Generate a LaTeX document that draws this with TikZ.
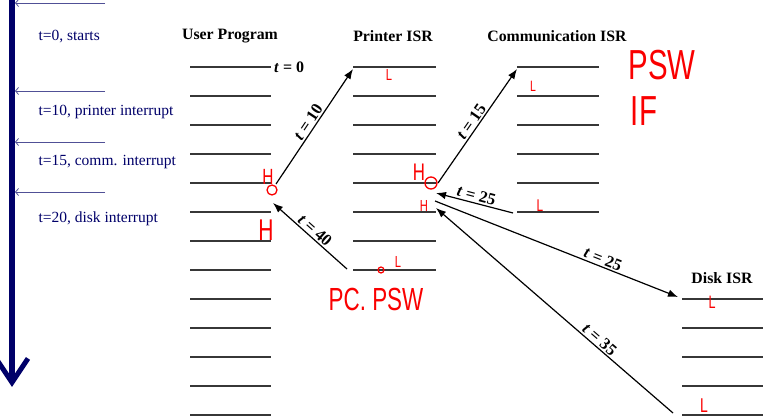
\documentclass[tikz,border=0pt]{standalone}
\usepackage{fontspec}
\setmainfont{Liberation Serif}
\newfontfamily\handfont[FakeStretch=0.7]{Liberation Sans}
\usetikzlibrary{arrows.meta}
\definecolor{navy}{RGB}{0,0,105}
\definecolor{lightnavy}{RGB}{80,80,150}
\definecolor{pen}{RGB}{250,0,0}
\definecolor{rule}{RGB}{55,55,55}

\begin{document}
\begin{tikzpicture}[x=1pt, y=-1pt,
    slot/.style={draw=rule, line width=1.3pt},
    title/.style={font=\fontsize{15.8}{18}\selectfont\bfseries},
    event/.style={anchor=west, text=navy, font=\fontsize{15.5}{18}\selectfont},
    tick/.style={draw=lightnavy, line width=0.8pt, -{Straight Barb[length=3pt,width=7pt]}},
    jump/.style={draw=black, line width=1.2pt, -{Latex[length=10pt,width=7.5pt]}},
    tlabel/.style={sloped, above, inner sep=1.5pt, font=\fontsize{16.5}{18}\selectfont\bfseries},
    scribble/.style={text=pen, inner sep=0pt}]
  \useasboundingbox (0,0) rectangle (777,419);

  % Time axis
  \coordinate (ttop) at (12,-5);
  \coordinate (tend) at (12,387);
  \draw[navy, line width=6pt, -{Straight Barb[length=24pt,width=32pt,line width=5pt]}] (ttop) -- (tend);

  \coordinate (k0) at (105,3);
  \coordinate (k0e) at (15,3);
  \coordinate (k1) at (105,91);
  \coordinate (k1e) at (15,91);
  \coordinate (k2) at (105,142);
  \coordinate (k2e) at (15,142);
  \coordinate (k3) at (105,192);
  \coordinate (k3e) at (15,192);
  \draw[tick] (k0) -- (k0e);
  \draw[tick] (k1) -- (k1e);
  \draw[tick] (k2) -- (k2e);
  \draw[tick] (k3) -- (k3e);

  \node[event] (e0) at (35,37) {t=0, starts};
  \node[event] (e10) at (35,112) {t=10, printer interrupt};
  \node[event] (e15) at (35,162) {t=15, comm. interrupt};
  \node[event] (e20) at (35,219) {t=20, disk interrupt};

  % Titles
  \node[title] (user) at (230,36) {User Program};
  \node[title] (printer) at (393,36) {Printer ISR};
  \node[title] (comm) at (557,36) {Communication ISR};
  \node[title] (disk) at (722,278) {Disk ISR};

  % User Program
  \draw[slot] (190,67) -- (271,67);
  \draw[slot] (190,96) -- (271,96);
  \draw[slot] (190,125) -- (271,125);
  \draw[slot] (190,154) -- (271,154);
  \draw[slot] (190,183) -- (271,183);
  \draw[slot] (190,212) -- (271,212);
  \draw[slot] (190,241) -- (271,241);
  \draw[slot] (190,270) -- (271,270);
  \draw[slot] (190,299) -- (271,299);
  \draw[slot] (190,328) -- (271,328);
  \draw[slot] (190,357) -- (271,357);
  \draw[slot] (190,386) -- (271,386);
  \draw[slot] (190,415) -- (271,415);
  \node[anchor=west, inner sep=1pt, font=\fontsize{16}{18}\selectfont\bfseries] (tzero) at (273,67) {\textit{t} = 0};

  % Printer ISR
  \draw[slot] (353,67) -- (436,67);
  \draw[slot] (353,96) -- (436,96);
  \draw[slot] (353,125) -- (436,125);
  \draw[slot] (353,154) -- (436,154);
  \draw[slot] (353,183) -- (436,183);
  \draw[slot] (353,212) -- (436,212);
  \draw[slot] (353,241) -- (436,241);
  \draw[slot] (353,270) -- (436,270);

  % Communication ISR
  \draw[slot] (517,67) -- (599,67);
  \draw[slot] (517,96) -- (599,96);
  \draw[slot] (517,125) -- (599,125);
  \draw[slot] (517,154) -- (599,154);
  \draw[slot] (517,183) -- (599,183);
  \draw[slot] (517,212) -- (599,212);

  % Disk ISR
  \draw[slot] (682,299) -- (763,299);
  \draw[slot] (682,328) -- (763,328);
  \draw[slot] (682,357) -- (763,357);
  \draw[slot] (682,386) -- (763,386);
  \draw[slot] (682,415) -- (763,415);

  % Jumps
  \coordinate (uout) at (276,184);
  \coordinate (uin) at (273,203);
  \coordinate (pin) at (353,69);
  \coordinate (pleave) at (347,269);
  \coordinate (pout) at (438,183);
  \coordinate (pback) at (436,193);
  \coordinate (pdisk) at (435,201);
  \coordinate (pin2) at (436,208);
  \coordinate (cin) at (517,69);
  \coordinate (cleave) at (513,213);
  \coordinate (din) at (678,297);
  \coordinate (dleave) at (673,413);

  \draw[jump] (uout) -- node[tlabel] {\textit{t} = 10} (pin);
  \draw[jump] (pleave) -- node[tlabel] {\textit{t} = 40} (uin);
  \draw[jump] (pout) -- node[tlabel] {\textit{t} = 15} (cin);
  \draw[jump] (cleave) -- node[tlabel] {\textit{t} = 25} (pback);
  \draw[jump] (pdisk) -- node[tlabel, pos=0.68] {\textit{t} = 25} (din);
  \draw[jump] (dleave) -- node[tlabel, pos=0.33] {\textit{t} = 35} (pin2);

  % Pen notes
  \node[scribble, font=\handfont\fontsize{22}{22}\selectfont] (h1) at (268,177) {H};
  \draw[pen, line width=1.3pt] (272,190) circle (5);
  \node[scribble, font=\handfont\fontsize{30}{30}\selectfont] (h2) at (266,230) {H};
  \node[scribble, font=\handfont\fontsize{16}{16}\selectfont] (l1) at (389,75) {L};
  \node[scribble, font=\handfont\fontsize{24}{24}\selectfont] (h3) at (419,172) {H};
  \draw[pen, line width=1.3pt] (431,183) circle (6);
  \node[scribble, font=\handfont\fontsize{16}{16}\selectfont] (h4) at (424,206) {H};
  \draw[pen, line width=1.2pt] (381,270) circle (3);
  \node[scribble, font=\handfont\fontsize{16}{16}\selectfont] (l2) at (398,262) {L};
  \node[scribble, font=\handfont\fontsize{32}{32}\selectfont] (pcpsw) at (376,299) {PC. PSW};
  \node[scribble, font=\handfont\fontsize{42}{42}\selectfont] (psw) at (662,65) {PSW};
  \node[scribble, font=\handfont\fontsize{42}{42}\selectfont] (iflag) at (644,111) {IF};
  \node[scribble, font=\handfont\fontsize{15}{15}\selectfont] (l3) at (533,86) {L};
  \node[scribble, font=\handfont\fontsize{17}{17}\selectfont] (l4) at (540,206) {L};
  \node[scribble, font=\handfont\fontsize{18}{18}\selectfont] (l5) at (712,302) {L};
  \node[scribble, font=\handfont\fontsize{20}{20}\selectfont] (l6) at (704,406) {L};
\end{tikzpicture}
\end{document}
